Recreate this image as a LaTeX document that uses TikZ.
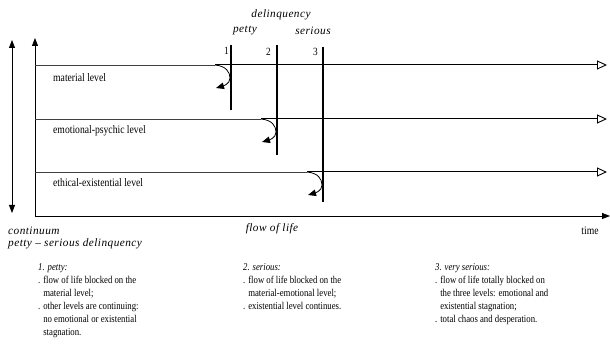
\documentclass[tikz,border=0pt]{standalone}
\usepackage{fontspec}
\setmainfont{Liberation Serif}
\newfontfamily\spacedserif{Liberation Serif}[LetterSpace=4]
\newfontfamily\narrowserif{Liberation Serif}[FakeStretch=0.84]
\usetikzlibrary{arrows.meta}
\tikzset{
  solidtip/.tip={Triangle[length=8pt,width=6pt]},
}
\begin{document}
\begin{tikzpicture}[x=1pt,y=-1pt,
  axisline/.style={line width=0.8pt, {solidtip}-{solidtip}},
  flowline/.style={line width=1pt, -{Triangle[open,length=10pt,width=9pt,line width=0.9pt]}},
  thinline/.style={line width=0.7pt, black!75},
  barline/.style={line width=1.8pt},
  turn/.style={line width=0.8pt, -{Triangle[length=8pt,width=6.5pt]}},
  lvl/.style={font=\narrowserif\fontsize{11.5}{13}\selectfont, anchor=west, inner sep=0pt},
  tag/.style={font=\spacedserif\itshape\fontsize{11.3}{13}\selectfont, inner sep=0pt},
  num/.style={font=\narrowserif\fontsize{11}{12}\selectfont, inner sep=0pt, anchor=east},
  note/.style={font=\narrowserif\fontsize{10.4}{13}\selectfont, align=left, anchor=north west, inner sep=0pt},
]
\useasboundingbox (0,0) rectangle (610,352);

% continuum axis on the far left
\coordinate (outtop) at (12,40);
\coordinate (outbot) at (12,213);
\draw[axisline] (outbot) -- (outtop);

% main axes
\coordinate (ytop) at (35,38);
\coordinate (origin) at (35,216);
\coordinate (xend) at (610,216);
\draw[axisline] (ytop) -- (origin) -- (xend);

% the three levels
\coordinate (l1s) at (35,65);  \coordinate (c1s) at (215,65);  \coordinate (l1e) at (607,65);
\coordinate (l2s) at (35,119); \coordinate (c2s) at (261,119); \coordinate (l2e) at (607,119);
\coordinate (l3s) at (35,172); \coordinate (c3s) at (307,172); \coordinate (l3e) at (607,172);
\draw[thinline] (l1s) -- (c1s);
\draw[thinline] (l2s) -- (c2s);
\draw[thinline] (l3s) -- (c3s);
\draw[flowline] (c1s) -- (l1e);
\draw[flowline] (c2s) -- (l2e);
\draw[flowline] (c3s) -- (l3e);

% blocking bars
\coordinate (b1t) at (231,45); \coordinate (b1b) at (231,110);
\coordinate (b2t) at (277,45); \coordinate (b2b) at (277,155);
\coordinate (b3t) at (323,47); \coordinate (b3b) at (323,202);
\draw[barline] (b1t) -- (b1b);
\draw[barline] (b2t) -- (b2b);
\draw[barline] (b3t) -- (b3b);

% flow turned back at each bar
\coordinate (k1) at (216,88);
\coordinate (k2) at (262,142);
\coordinate (k3) at (308,195);
\draw[turn] (c1s) .. controls +(11,1) and +(0,-6) .. ++(15,13) .. controls +(0,6) and +(7,-2) .. (k1);
\draw[turn] (c2s) .. controls +(11,1) and +(0,-6) .. ++(15,13) .. controls +(0,6) and +(7,-2) .. (k2);
\draw[turn] (c3s) .. controls +(11,1) and +(0,-6) .. ++(15,13) .. controls +(0,6) and +(7,-2) .. (k3);

\node[num] (n1) at (229,51) {1};
\node[num] (n2) at (271,52) {2};
\node[num] (n3) at (318,52) {3};

\node[tag] (delq) at (281,15) {delinquency};
\node[tag] (petty) at (245,31) {petty};
\node[tag] (serious) at (313,31) {serious};

\node[lvl] (mat) at (53,78) {material level};
\node[lvl] (emo) at (53,131) {emotional-psychic level};
\node[lvl] (eth) at (53,183) {ethical-existential level};

\node[tag, anchor=west] (cont) at (8,231) {continuum};
\node[tag, anchor=west] (range) at (8,244) {petty – serious delinquency};
\node[tag] (flow) at (272,229) {flow of life};
\node[lvl, anchor=center] (time) at (590,231) {time};

\node[note] (s1) at (38,263) {\textit{1. petty:}\\
. flow of life blocked on the\\
\hphantom{. }material level;\\
. other levels are continuing:\\
\hphantom{. }no emotional or existential\\
\hphantom{. }stagnation.};
\node[note] (s2) at (243,263) {\textit{2. serious:}\\
. flow of life blocked on the\\
\hphantom{. }material-emotional level;\\
. existential level continues.};
\node[note] (s3) at (435,263) {\textit{3. very serious:}\\
. flow of life totally blocked on\\
\hphantom{. }the three levels: emotional and\\
\hphantom{. }existential stagnation;\\
. total chaos and desperation.};
\end{tikzpicture}
\end{document}
